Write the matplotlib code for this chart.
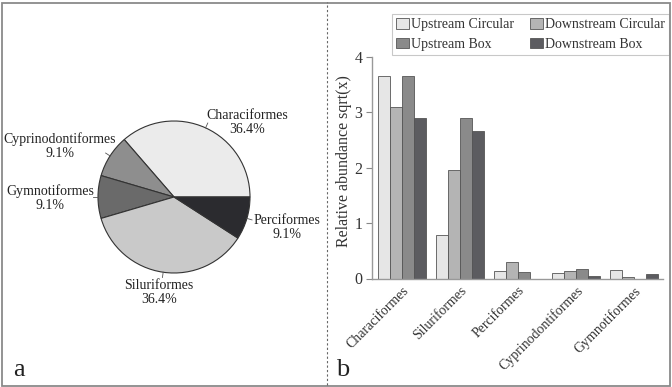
import numpy as np
import matplotlib
matplotlib.use("Agg")
import matplotlib.pyplot as plt
from matplotlib.patches import Rectangle
from matplotlib.lines import Line2D

plt.rcParams['font.family'] = ['Liberation Serif', 'DejaVu Serif']

# ---- data ----
pie_labels = ["Characiformes", "Cyprinodontiformes", "Gymnotiformes", "Siluriformes", "Perciformes"]
pie_values = [4, 1, 1, 4, 1]
pie_pct = ["36.4%", "9.1%", "9.1%", "36.4%", "9.1%"]
pie_colors = ["#ebebeb", "#8e8e8e", "#6a6a6a", "#c9c9c9", "#2b2b2f"]

bar_categories = ["Characiformes", "Siluriformes", "Perciformes", "Cyprinodontiformes", "Gymnotiformes"]
series_names = ["Upstream Circular", "Downstream Circular", "Upstream Box", "Downstream Box"]
upstream_circular = [3.65, 0.78, 0.14, 0.10, 0.16]
downstream_circular = [3.10, 1.96, 0.30, 0.13, 0.02]
upstream_box = [3.65, 2.90, 0.11, 0.17, 0.00]
downstream_box = [2.90, 2.67, 0.00, 0.05, 0.08]
series_colors = ["#e6e6e6", "#b4b4b4", "#8a8a8a", "#5c5c60"]
yticks = [0, 1, 2, 3, 4]

W, H = 672, 387
fig = plt.figure(figsize=(W / 100, H / 100), dpi=100)

# ---- frame and divider ----
fig.add_artist(Rectangle((1.5 / W, 1.5 / H), (W - 4) / W, (H - 4) / H, transform=fig.transFigure,
                         fill=False, edgecolor="#8a8a8a", linewidth=1.3))
fig.add_artist(Line2D([327 / W, 327 / W], [2 / H, 1 - 2 / H], transform=fig.transFigure,
                      color="#666666", linewidth=0.8, linestyle=(0, (2, 2))))

# ---- pie ----
cx, cy, r = 174, 197, 76
axp = fig.add_axes([(cx - r) / W, (H - cy - r) / H, 2 * r / W, 2 * r / H])
wedges, _ = axp.pie(pie_values, colors=pie_colors, startangle=0, counterclock=True,
                    wedgeprops=dict(edgecolor="#333333", linewidth=0.8))
axp.set_xlim(-1, 1)
axp.set_ylim(-1, 1)
axp.set_aspect("auto")
label_pos = [(0.96, 0.98), (-1.50, 0.67), (-1.63, -0.02), (-0.20, -1.26), (1.49, -0.40)]
for w, lab, pct, (tx, ty) in zip(wedges, pie_labels, pie_pct, label_pos):
    axp.text(tx, ty, f"{lab}\n{pct}", ha="center", va="center", fontsize=10,
             color="#222222", linespacing=1.1)
    ang = np.deg2rad((w.theta1 + w.theta2) / 2)
    x0, y0 = np.cos(ang), np.sin(ang)
    axp.plot([x0, 1.07 * x0], [y0, 1.07 * y0], color="#555555", linewidth=0.6, clip_on=False)

fig.text(13 / W, 1 - 376 / H, "a", fontsize=19, color="#222222", va="baseline")
fig.text(336 / W, 1 - 376 / H, "b", fontsize=19, color="#222222", va="baseline")

# ---- bars ----
axb = fig.add_axes([372 / W, (H - 278.5) / H, (663 - 372) / W, (278.5 - 57) / H])
data = [upstream_circular, downstream_circular, upstream_box, downstream_box]
x = np.arange(len(bar_categories))
bw = 0.207
handles = []
for i, (vals, col, name) in enumerate(zip(data, series_colors, series_names)):
    b = axb.bar(x + (i - 1.5) * bw, vals, width=bw, color=col, edgecolor="#555555",
                linewidth=0.6, label=name)
    handles.append(b)
axb.set_xlim(-0.52, 4.5)
axb.set_ylim(0, 4)
axb.set_yticks(yticks)
axb.set_yticklabels([str(t) for t in yticks], fontsize=11.5, color="#333333")
axb.set_xticks(x)
axb.set_xticklabels(bar_categories, rotation=45, ha="right", rotation_mode="anchor",
                    fontsize=10, color="#333333")
axb.tick_params(axis="x", length=0, pad=4)
axb.tick_params(axis="y", length=4, width=0.8, color="#888888", pad=3)
for s in ["top", "right"]:
    axb.spines[s].set_visible(False)
for s in ["left", "bottom"]:
    axb.spines[s].set_color("#999999")
    axb.spines[s].set_linewidth(1.0)
axb.set_ylabel("Relative abundance sqrt(x)", fontsize=11.5, color="#333333")
axb.yaxis.set_label_coords(-0.07, 0.53)

order = [0, 2, 1, 3]
leg = axb.legend([handles[k] for k in order], [series_names[k] for k in order], ncol=2,
                 loc="upper left", bbox_to_anchor=(392 / W, 1 - 14 / H),
                 bbox_transform=fig.transFigure, fontsize=10, frameon=True,
                 fancybox=False, edgecolor="#bbbbbb", handlelength=0.9, handleheight=0.8,
                 handletextpad=0.15, columnspacing=1.2, labelspacing=0.45, borderpad=0.3,
                 borderaxespad=0)
leg.get_frame().set_linewidth(0.8)
for t in leg.get_texts():
    t.set_color("#333333")

fig.savefig("out.png", dpi=100)
